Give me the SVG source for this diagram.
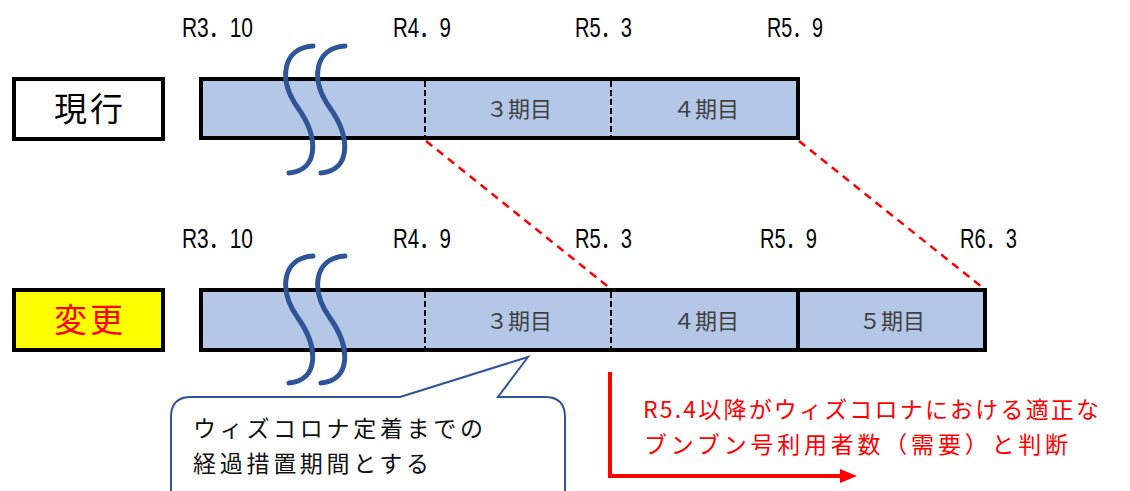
<svg xmlns="http://www.w3.org/2000/svg" width="1130" height="491" viewBox="0 0 1130 491">
<style>
.date{font-family:"Liberation Sans","Noto Sans CJK JP",sans-serif;font-size:27px;fill:#000}
.period{font-family:"Noto Sans CJK JP","Noto Sans CJK SC",sans-serif;font-size:22px;fill:#404040;text-anchor:middle}
.lbl{font-family:"Noto Sans CJK JP",sans-serif;font-size:33px;text-anchor:middle;letter-spacing:3px}
.bar{fill:#B4C7E7;stroke:#000;stroke-width:4}
.div{stroke:#000;stroke-width:2;stroke-dasharray:6,3}
.wave{fill:none;stroke:#2F5597;stroke-width:5;stroke-linecap:round}
.red{stroke:#FF0000;stroke-width:2.5;stroke-dasharray:8,6;fill:none}
.note{font-family:"Noto Sans CJK JP",sans-serif;font-size:23px}
</style>
<rect width="1130" height="491" fill="#fff"/>

<g id="dates-top">
<text class="date" x="182" y="37" textLength="71" lengthAdjust="spacingAndGlyphs">R3．10</text>
<text class="date" x="393" y="37" textLength="58" lengthAdjust="spacingAndGlyphs">R4．9</text>
<text class="date" x="575" y="37" textLength="57" lengthAdjust="spacingAndGlyphs">R5．3</text>
<text class="date" x="767" y="37" textLength="56" lengthAdjust="spacingAndGlyphs">R5．9</text>
</g>
<g id="dates-bottom">
<text class="date" x="182" y="248" textLength="71" lengthAdjust="spacingAndGlyphs">R3．10</text>
<text class="date" x="393" y="248" textLength="58" lengthAdjust="spacingAndGlyphs">R4．9</text>
<text class="date" x="575" y="248" textLength="57" lengthAdjust="spacingAndGlyphs">R5．3</text>
<text class="date" x="760" y="248" textLength="57" lengthAdjust="spacingAndGlyphs">R5．9</text>
<text class="date" x="960" y="248" textLength="57" lengthAdjust="spacingAndGlyphs">R6．3</text>
</g>

<g id="label-current">
<rect x="14" y="79" width="149" height="60" fill="#fff" stroke="#000" stroke-width="4"/>
<text class="lbl" x="90" y="121" fill="#000">現行</text>
</g>
<g id="label-change">
<rect x="14" y="290" width="149" height="60" fill="#FFFF00" stroke="#000" stroke-width="4"/>
<text class="lbl" x="90" y="332" fill="#FF0000">変更</text>
</g>

<g id="bar-current">
<rect class="bar" x="201" y="79" width="597" height="59"/>
<line class="div" x1="425" y1="81" x2="425" y2="136"/>
<line class="div" x1="611" y1="81" x2="611" y2="136"/>
<text class="period" x="519" y="117">３期目</text>
<text class="period" x="706" y="117">４期目</text>
</g>

<g id="bar-change">
<rect class="bar" x="201" y="290" width="784" height="60"/>
<line class="div" x1="425" y1="292" x2="425" y2="348"/>
<line class="div" x1="611" y1="292" x2="611" y2="348"/>
<line x1="798" y1="290" x2="798" y2="350" stroke="#000" stroke-width="4"/>
<text class="period" x="519" y="329">３期目</text>
<text class="period" x="706" y="329">４期目</text>
<text class="period" x="892" y="329">５期目</text>
</g>

<g id="waves-top">
<path class="wave" d="M313,46 C282,48 278,80 298,108 C318,136 320,170 289,173"/>
<path class="wave" d="M345,46 C314,48 310,80 330,108 C350,136 352,170 321,173"/>
</g>
<g id="waves-bottom" transform="translate(0,210)">
<path class="wave" d="M313,46 C282,48 278,80 298,108 C318,136 320,170 289,173"/>
<path class="wave" d="M345,46 C314,48 310,80 330,108 C350,136 352,170 321,173"/>
</g>

<g id="connectors">
<line class="red" x1="426" y1="141" x2="611" y2="289"/>
<line class="red" x1="799" y1="141" x2="983" y2="288"/>
<path d="M610,372 V476 H842" fill="none" stroke="#FF0000" stroke-width="4"/>
<polygon points="840,469 857,476 840,483" fill="#FF0000"/>
</g>

<g id="callout">
<path d="M400,397 L528,357 L498,397 L545,397 Q565,397 565,417 L565,510 L171,510 L171,417 Q171,397 191,397 Z" fill="#fff" stroke="#2F5597" stroke-width="2"/>
<text class="note" x="193" y="437" fill="#111" textLength="290" lengthAdjust="spacing">ウィズコロナ定着までの</text>
<text class="note" x="193" y="472" fill="#111" textLength="236" lengthAdjust="spacing">経過措置期間とする</text>
</g>

<g id="judgement">
<text class="note" x="643" y="418" fill="#FF0000" textLength="456" lengthAdjust="spacing">R5.4以降がウィズコロナにおける適正な</text>
<text class="note" x="644" y="453" fill="#FF0000" textLength="424" lengthAdjust="spacing">ブンブン号利用者数（需要）と判断</text>
</g>
</svg>
